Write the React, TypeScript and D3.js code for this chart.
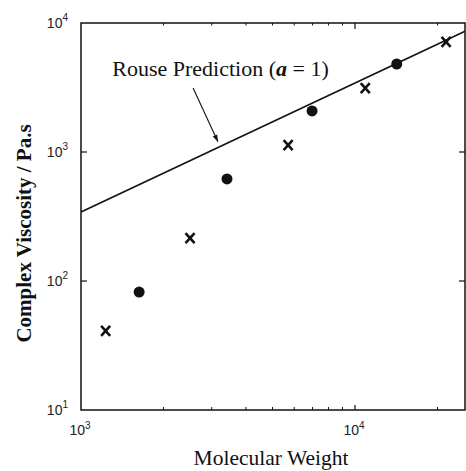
import React from 'react';
import * as d3 from 'd3';

// Data (log-log)
const crossMW = [1230, 2500, 5700, 10900, 21500];
const crossEta = [41, 215, 1130, 3130, 7130];
const dotMW = [1630, 3410, 6970, 14200];
const dotEta = [82, 618, 2080, 4810];
const rouseMW = [1000, 25200];
const rouseCoef = 0.343; // eta = coef * M  (slope a = 1)
const xDecades = [1000, 10000];
const yDecades = [10, 100, 1000, 10000];
const xMinor = [2000, 3000, 4000, 5000, 6000, 7000, 8000, 9000, 20000];

const width = 466;
const height = 471;
const margin = { top: 23, right: 1, bottom: 61, left: 81 };

const App = () => {
  const innerW = width - margin.left - margin.right;
  const innerH = height - margin.top - margin.bottom;

  const x = d3.scaleLog().domain([1000, 25200]).range([0, innerW]);
  const y = d3.scaleLog().domain([10, 10000]).range([innerH, 0]);

  const line = d3.line<number>()
    .x(m => x(m))
    .y(m => y(rouseCoef * m));

  const exp = (v: number) => Math.round(Math.log10(v));

  // annotation anchors, in data units
  const labelPos = { m: 1300, eta: 3880 };
  const arrowFrom = { m: 2565, eta: 3130 };
  const arrowTo = { m: 3160, eta: 1200 };

  const tickFont = '"Liberation Sans", Arial, sans-serif';
  const serif = '"Liberation Serif", "Times New Roman", serif';
  const ink = '#111';

  return (
    <svg width={width} height={height} style={{ position: 'absolute', left: 0, top: 0, background: '#fff' }}>
      <defs>
        <marker id="arrowHead" viewBox="0 0 10 10" refX="10" refY="5" markerWidth="9" markerHeight="7" orient="auto" markerUnits="userSpaceOnUse">
          <path d="M0,1.5 L10,5 L0,8.5 Z" fill={ink} />
        </marker>
      </defs>
      <g transform={`translate(${margin.left},${margin.top})`}>
        {/* frame */}
        <rect x={0} y={0} width={innerW} height={innerH} fill="none" stroke={ink} strokeWidth={1.5} />

        {/* y ticks (left and right, inward) */}
        {yDecades.slice(1, 3).map(v => (
          <g key={`yt${v}`}>
            <line x1={0} x2={6} y1={y(v)} y2={y(v)} stroke={ink} strokeWidth={1.2} />
            <line x1={innerW} x2={innerW - 6} y1={y(v)} y2={y(v)} stroke={ink} strokeWidth={1.2} />
          </g>
        ))}

        {/* x ticks */}
        <line x1={x(10000)} x2={x(10000)} y1={innerH} y2={innerH - 5} stroke={ink} strokeWidth={1.2} />
        <line x1={x(10000)} x2={x(10000)} y1={0} y2={6} stroke={ink} strokeWidth={1.2} />
        {xMinor.map(v => (
          <g key={`xm${v}`}>
            <line x1={x(v)} x2={x(v)} y1={innerH} y2={innerH - 3} stroke={ink} strokeWidth={1} />
            <line x1={x(v)} x2={x(v)} y1={0} y2={2.5} stroke={ink} strokeWidth={1} />
          </g>
        ))}

        {/* y tick labels */}
        {yDecades.map(v => (
          <text key={`yl${v}`} x={-13} y={y(v) + 4.5} textAnchor="end" fontFamily={tickFont} fontSize={14} fill="#222">
            10<tspan dy={-6.5} fontSize={10}>{exp(v)}</tspan>
          </text>
        ))}

        {/* x tick labels */}
        {xDecades.map(v => (
          <text key={`xl${v}`} x={x(v) - 1} y={innerH + 25} textAnchor="middle" fontFamily={tickFont} fontSize={14} fill="#222">
            10<tspan dy={-6.5} fontSize={10}>{exp(v)}</tspan>
          </text>
        ))}

        {/* Rouse prediction line */}
        <path d={line(rouseMW) || ''} fill="none" stroke={ink} strokeWidth={1.6} />

        {/* data: crosses */}
        {crossMW.map((m, i) => {
          const cx = x(m);
          const cy = y(crossEta[i]);
          return (
            <g key={`c${i}`} stroke={ink} strokeWidth={2.6} strokeLinecap="butt">
              <line x1={cx - 4.5} x2={cx + 4.5} y1={cy - 5} y2={cy + 5} />
              <line x1={cx + 4.5} x2={cx - 4.5} y1={cy - 5} y2={cy + 5} />
            </g>
          );
        })}

        {/* data: filled circles */}
        {dotMW.map((m, i) => (
          <circle key={`d${i}`} cx={x(m)} cy={y(dotEta[i])} r={5.5} fill={ink} />
        ))}

        {/* annotation */}
        <text x={x(labelPos.m)} y={y(labelPos.eta)} fontFamily={serif} fontSize={22} fill={ink}>
          Rouse Prediction (<tspan fontWeight="bold" fontStyle="italic">a</tspan> = 1)
        </text>
        <line
          x1={x(arrowFrom.m)} y1={y(arrowFrom.eta)}
          x2={x(arrowTo.m)} y2={y(arrowTo.eta)}
          stroke={ink} strokeWidth={1.1} markerEnd="url(#arrowHead)"
        />

        {/* axis titles */}
        <text x={innerW / 2 - 2} y={innerH + 55} textAnchor="middle" fontFamily={serif} fontSize={21.5} fill={ink}>
          Molecular Weight
        </text>
        <text
          transform={`translate(${-margin.left + 31},${innerH / 2 + 17}) rotate(-90)`}
          textAnchor="middle" fontFamily={serif} fontSize={21} fontWeight="bold" fill={ink}
        >
          Complex Viscosity / Pa.s
        </text>
      </g>
    </svg>
  );
};

export default App;
